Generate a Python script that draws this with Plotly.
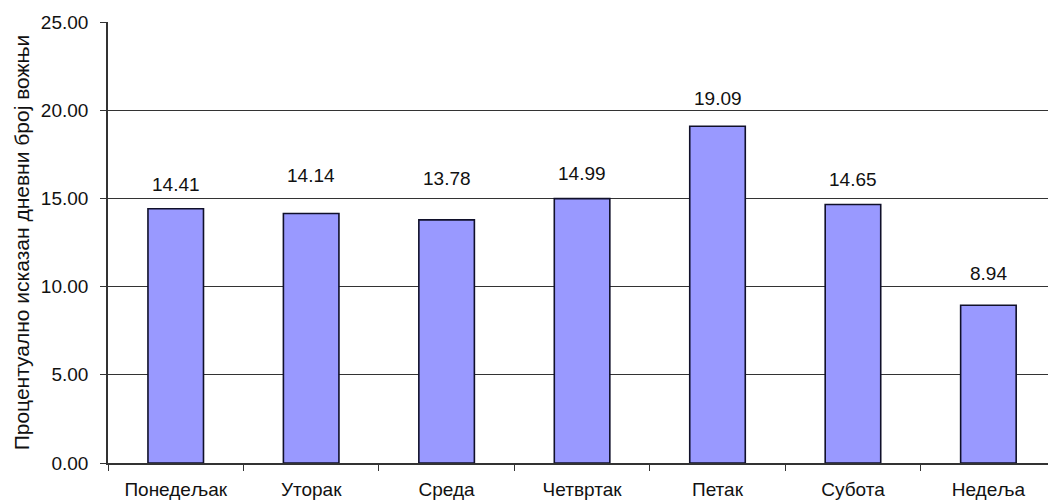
import plotly.graph_objects as go

days = ["Понедељак", "Уторак", "Среда", "Четвртак", "Петак", "Субота", "Недеља"]
shares = [14.41, 14.14, 13.78, 14.99, 19.09, 14.65, 8.94]
y_ticks = [0, 5, 10, 15, 20, 25]
y_title = "Процентуално исказан дневни број вожњи"

# vertical offset (px) of each value label's centre above its bar top
label_lift = [24, 38, 41, 25, 28, 25, 32]

FONT = "Liberation Sans, Arial, sans-serif"
INK = "#111111"

fig = go.Figure(
    go.Bar(
        x=days,
        y=shares,
        width=0.41,
        marker=dict(color="#9999FF", line=dict(color="#10102a", width=1.6)),
        hoverinfo="x+y",
    )
)

# value labels above each bar
for d, v, lift in zip(days, shares, label_lift):
    fig.add_annotation(
        x=d, y=v, text=f"{v:.2f}", showarrow=False,
        yanchor="middle", yshift=lift,
        font=dict(family=FONT, size=19, color=INK),
    )

fig.update_layout(
    width=1048,
    height=503,
    margin=dict(l=108, r=0, t=22, b=40),
    paper_bgcolor="white",
    plot_bgcolor="white",
    showlegend=False,
    bargap=0.59,
    font=dict(family=FONT, size=19, color=INK),
)

fig.update_xaxes(
    type="category",
    range=[-0.5, 6.44],
    tickson="boundaries",
    ticks="outside",
    ticklen=6,
    tickcolor="#333333",
    ticklabelstandoff=8,
    showline=True,
    linecolor="#333333",
    linewidth=1.6,
    showgrid=False,
    tickfont=dict(family=FONT, size=19, color=INK),
)

fig.update_yaxes(
    range=[0, 25],
    tickvals=y_ticks,
    tickformat=".2f",
    ticks="outside",
    ticklen=6,
    tickcolor="#333333",
    ticklabelstandoff=8,
    showline=True,
    linecolor="#333333",
    linewidth=1.6,
    showgrid=True,
    gridcolor="#333333",
    gridwidth=1.3,
    zeroline=False,
    tickfont=dict(family=FONT, size=19, color=INK),
    title=dict(text=y_title, font=dict(family=FONT, size=21, color=INK), standoff=6),
)

fig.write_html("out.html")
